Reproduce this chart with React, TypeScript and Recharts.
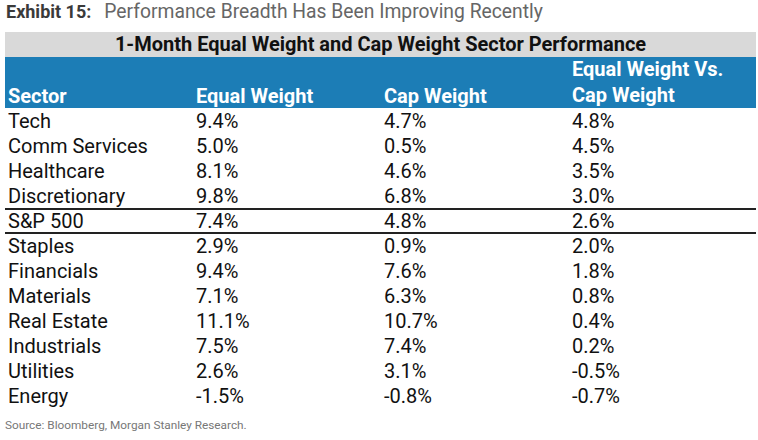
import React from 'react';
import { ComposedChart, Bar, XAxis, YAxis, LabelList } from 'recharts';

const sectors = ['Tech', 'Comm Services', 'Healthcare', 'Discretionary', 'S&P 500', 'Staples', 'Financials', 'Materials', 'Real Estate', 'Industrials', 'Utilities', 'Energy'];
const equalWeight = [9.4, 5.0, 8.1, 9.8, 7.4, 2.9, 9.4, 7.1, 11.1, 7.5, 2.6, -1.5];
const capWeight = [4.7, 0.5, 4.6, 6.8, 4.8, 0.9, 7.6, 6.3, 10.7, 7.4, 3.1, -0.8];
const equalVsCap = [4.8, 4.5, 3.5, 3.0, 2.6, 2.0, 1.8, 0.8, 0.4, 0.2, -0.5, -0.7];
const highlightRow = 'S&P 500';

const title = 'Exhibit 15:';
const subtitle = 'Performance Breadth Has Been Improving Recently';
const tableTitle = '1-Month Equal Weight and Cap Weight Sector Performance';
const source = 'Source: Bloomberg, Morgan Stanley Research.';

const data = sectors.map((s, i) => ({
  sector: s,
  equal: equalWeight[i],
  cap: capWeight[i],
  diff: equalVsCap[i],
}));

const FONT = 'Roboto, "Noto Sans", sans-serif';
const W = 758;
const H = 440;
const TOP = 108;
const BOTTOM = 32;
const FS = 20;
const COL_X = { sector: 8, equal: 196, cap: 384, diff: 572 };

const fmt = (v: number) => `${v.toFixed(1)}%`;

const makeCell = (colX: number, drawLines: boolean, isText: boolean) => (props: any) => {
  const vb = props.viewBox || props;
  const y = Number(vb.y ?? props.y);
  const h = Number(vb.height ?? props.height);
  const idx = props.index;
  const cy = y + h / 2;
  const isHL = data[idx] && data[idx].sector === highlightRow;
  return (
    <g>
      {drawLines && isHL ? (
        <g>
          <line x1={5} x2={756} y1={y + 1} y2={y + 1} stroke="#222" strokeWidth={2} />
          <line x1={5} x2={756} y1={y + h} y2={y + h} stroke="#222" strokeWidth={2} />
        </g>
      ) : null}
      <text x={colX} y={cy} dy="0.36em" fontFamily={FONT} fontSize={FS} fill="#111" textAnchor="start">
        {isText ? String(props.value) : fmt(Number(props.value))}
      </text>
    </g>
  );
};

export default function App() {
  return (
    <div style={{ position: 'absolute', left: 0, top: 0, width: W, height: H, background: '#fff', fontFamily: FONT, overflow: 'hidden' }}>
      <div style={{ position: 'absolute', left: 6, top: 0, whiteSpace: 'nowrap', lineHeight: '24px' }}>
        <span style={{ fontWeight: 700, fontSize: 18, color: '#3a3a3a' }}>{title}</span>
        <span style={{ fontSize: 19.3, color: '#666', marginLeft: 13 }}>{subtitle}</span>
      </div>
      <div style={{ position: 'absolute', left: 5, top: 32, width: 751, height: 25, background: '#d9d9d9', textAlign: 'center', fontWeight: 700, fontSize: 20, color: '#111', lineHeight: '25px' }}>
        {tableTitle}
      </div>
      <div style={{ position: 'absolute', left: 5, top: 57, width: 751, height: 51, background: '#1c7db6', color: '#fff', fontWeight: 700, fontSize: FS }}>
        <div style={{ position: 'absolute', left: COL_X.sector - 5, top: 26, lineHeight: '26px' }}>Sector</div>
        <div style={{ position: 'absolute', left: COL_X.equal - 5, top: 26, lineHeight: '26px' }}>Equal Weight</div>
        <div style={{ position: 'absolute', left: COL_X.cap - 5, top: 26, lineHeight: '26px' }}>Cap Weight</div>
        <div style={{ position: 'absolute', left: COL_X.diff - 5, top: -1, lineHeight: '26px', whiteSpace: 'nowrap' }}>
          Equal Weight Vs.<br />Cap Weight
        </div>
      </div>
      <div style={{ position: 'absolute', left: 0, top: 0 }}>
        <ComposedChart
          width={W}
          height={H}
          data={data}
          layout="vertical"
          margin={{ top: TOP, right: 0, bottom: BOTTOM, left: 0 }}
          barCategoryGap={0}
        >
          <XAxis type="number" hide domain={[-2, 12]} />
          <YAxis type="category" dataKey="sector" hide />
          <Bar dataKey="equal" fill="none" fillOpacity={0} isAnimationActive={false}>
            <LabelList dataKey="sector" content={makeCell(COL_X.sector, false, true)} />
            <LabelList dataKey="equal" content={makeCell(COL_X.equal, true, false)} />
            <LabelList dataKey="cap" content={makeCell(COL_X.cap, false, false)} />
            <LabelList dataKey="diff" content={makeCell(COL_X.diff, false, false)} />
          </Bar>
        </ComposedChart>
      </div>
      <div style={{ position: 'absolute', left: 5, top: 417, fontSize: 11.8, color: '#777', whiteSpace: 'nowrap', lineHeight: '16px' }}>
        {source}
      </div>
    </div>
  );
}
